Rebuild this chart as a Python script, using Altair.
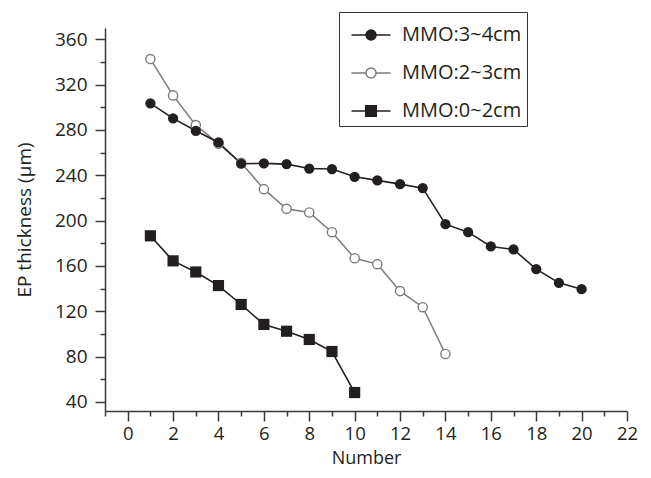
import altair as alt
import pandas as pd

# ---- data ----
series_names = ["MMO:3~4cm", "MMO:2~3cm", "MMO:0~2cm"]

x_34 = list(range(1, 21))
y_34 = [303.5, 290.2, 279.3, 269.0, 250.2, 250.5, 249.9, 246.0, 245.5, 238.7,
        235.5, 232.2, 228.7, 196.9, 189.8, 177.2, 174.6, 157.2, 145.1, 139.5]

x_23 = list(range(1, 15))
y_23 = [342.6, 310.5, 284.3, 268.0, 251.0, 227.8, 210.4, 207.2, 189.8, 166.8,
        161.6, 137.8, 123.6, 82.3]

x_02 = list(range(1, 11))
y_02 = [186.6, 164.5, 154.7, 142.7, 126.0, 108.4, 102.4, 95.1, 84.5, 48.3]

major_x = list(range(0, 23, 2))
minor_x = list(range(-1, 22, 2))
major_y = list(range(40, 361, 40))
minor_y = list(range(60, 341, 40))

rows = []
for name, xs, ys in zip(series_names, [x_34, x_23, x_02], [y_34, y_23, y_02]):
    rows += [{"Number": x, "Thickness": y, "series": name} for x, y in zip(xs, ys)]
df = pd.DataFrame(rows)

BLACK = "#231f20"
GRAY = "#7b7b7b"
AXIS = "#3a3a3a"
FONT = "Open Sans"

xscale = alt.Scale(domain=[-1, 22], nice=False, zero=False)
yscale = alt.Scale(domain=[32, 370], nice=False, zero=False)

common_axis = dict(grid=False, domainColor=AXIS, domainWidth=1.5, tickColor=AXIS,
                   tickWidth=1.5, labelFont=FONT, labelColor=BLACK,
                   titleFont=FONT, titleFontWeight="normal", titleColor=BLACK)

x_major = alt.Axis(values=major_x, title="Number", orient="bottom", tickSize=10,
                   labelPadding=3, titlePadding=7, labelFlush=False,
                   labelFontSize=18.5, titleFontSize=18, **common_axis)
y_major = alt.Axis(values=major_y, title="EP thickness (µm)", orient="left",
                   tickSize=10, labelPadding=8, titlePadding=20,
                   labelFontSize=19, titleFontSize=19, **common_axis)
x_minor = alt.Axis(values=minor_x, orient="bottom", labels=False, domain=False,
                   tickSize=5, title=None, grid=False, tickColor=AXIS, tickWidth=1.5)
y_minor = alt.Axis(values=minor_y, orient="left", labels=False, domain=False,
                   tickSize=5, title=None, grid=False, tickColor=AXIS, tickWidth=1.5)

base = alt.Chart(df)


def sel(name):
    return base.transform_filter(alt.datum.series == name)


def xy(xaxis=None, yaxis=None):
    return dict(
        x=alt.X("Number:Q", scale=xscale, axis=xaxis),
        y=alt.Y("Thickness:Q", scale=yscale, axis=yaxis),
    )


line_gray = sel("MMO:2~3cm").mark_line(color=GRAY, strokeWidth=1.5).encode(
    **xy(x_major, y_major))
line_b1 = sel("MMO:3~4cm").mark_line(color=BLACK, strokeWidth=1.6).encode(**xy())
line_b2 = sel("MMO:0~2cm").mark_line(color=BLACK, strokeWidth=1.6).encode(**xy())

pts_open = sel("MMO:2~3cm").mark_point(
    shape="circle", filled=True, fill="white", stroke=GRAY, strokeWidth=1.4,
    size=85, opacity=1, fillOpacity=1).encode(**xy(x_minor, y_minor))
pts_fill = sel("MMO:3~4cm").mark_point(
    shape="circle", filled=True, color=BLACK, size=105, opacity=1).encode(**xy())
pts_sq = sel("MMO:0~2cm").mark_point(
    shape="square", filled=True, color=BLACK, size=125, opacity=1).encode(**xy())

# legend symbols: line segment plus marker, as custom SVG paths
legend_paths = [
    "M-1.95,0H1.95M0.5,0A0.5,0.5,0,1,1,-0.5,0A0.5,0.5,0,1,1,0.5,0Z",
    "M-1.95,0H-0.5M0.5,0H1.95M0.5,0A0.5,0.5,0,1,1,-0.5,0A0.5,0.5,0,1,1,0.5,0Z",
    "M-1.95,0H1.95M-0.53,-0.53H0.53V0.53H-0.53Z",
]

leg = alt.Legend(title=" ", titleFontSize=1, titlePadding=6, orient="none",
                 legendX=234, legendY=-16, labelFont=FONT, labelFontSize=20,
                 labelColor=BLACK, symbolSize=400, symbolStrokeWidth=1.5,
                 symbolOffset=16, labelOffset=20, rowPadding=17, padding=5,
                 strokeColor="#333333", fillColor="white", labelLimit=300,
                 direction="vertical")

legend_layer = base.transform_filter("false").mark_point(
    filled=True, opacity=1, size=400).encode(
    fill=alt.Fill("series:N", scale=alt.Scale(domain=series_names,
                  range=[BLACK, "white", BLACK]), legend=leg),
    stroke=alt.Stroke("series:N", scale=alt.Scale(domain=series_names,
                      range=[BLACK, GRAY, BLACK]), legend=leg),
    shape=alt.Shape("series:N", scale=alt.Scale(domain=series_names,
                    range=legend_paths), legend=leg),
)

chart = alt.layer(
    line_gray, line_b1, line_b2, pts_open, pts_fill, pts_sq, legend_layer
).resolve_axis(x="independent", y="independent").properties(
    width=522, height=383,
    padding={"left": 97, "top": 20, "right": 16, "bottom": 59},
    autosize=alt.AutoSizeParams(type="none"),
    background="white",
).configure_view(stroke=None)

chart.save("out.html", embed_options={"renderer": "svg", "actions": False})
